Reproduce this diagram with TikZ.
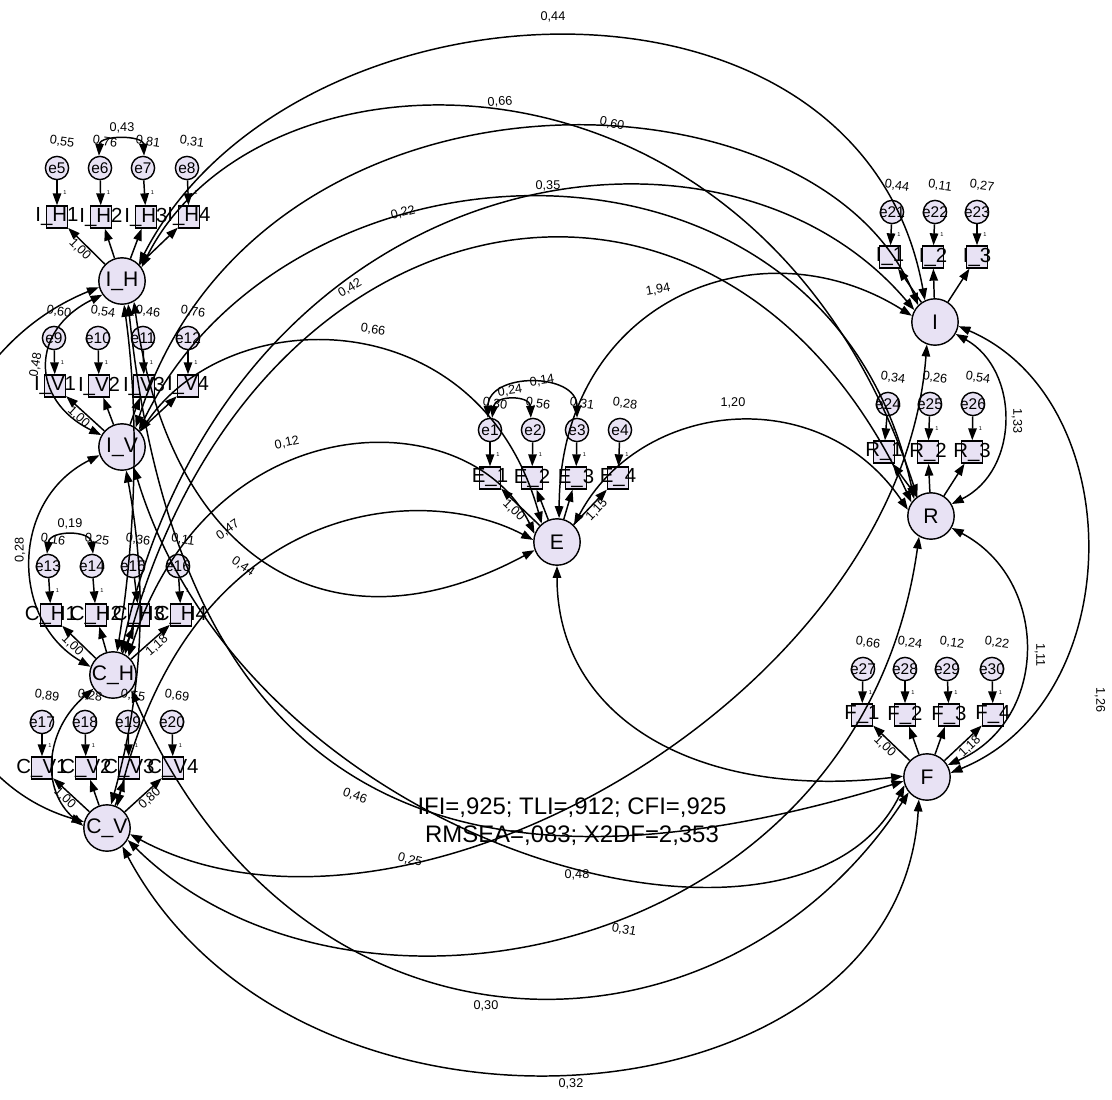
\documentclass[tikz,border=0pt]{standalone}
\usepackage{fontspec}
\setmainfont{Liberation Sans}
\usetikzlibrary{arrows.meta}
\definecolor{lav}{RGB}{232,226,244}
% one indicator: box, its error term, the error variance and the error path
\newcommand\mkind[9]{%
  \node[obsbox] (#1) at (#2,#3) {\makebox[0pt]{#4}};
  \node[errnode] (#5) at (#6,#7) {\makebox[0pt]{#8}};
  \node[num,rotate=-8,anchor=south] (#5v) at ([xshift=3pt,yshift=6pt]#5.north) {#9};
  \draw[->,conn] (#5) -- (#1) node[one,pos=.5,right=4pt] (#5one) {1};
}
\begin{document}
\begin{tikzpicture}[x=0.025cm,y=-0.025cm,
  >={Triangle[length=8.5pt,width=6pt]},
  every node/.style={inner sep=0pt},
  latent/.style={circle,draw,line width=1pt,fill=lav,minimum size=1.16cm,font=\fontsize{15}{15}\selectfont},
  obsbox/.style={rectangle,draw,line width=1pt,fill=lav,minimum width=0.52cm,minimum height=0.55cm,font=\fontsize{14.5}{14.5}\selectfont},
  errnode/.style={circle,draw,line width=1pt,fill=lav,minimum size=0.58cm,font=\fontsize{11}{11}\selectfont},
  num/.style={font=\fontsize{9}{9}\selectfont},
  one/.style={font=\fontsize{4}{4}\selectfont},
  conn/.style={line width=1.05pt},
  covline/.style={<->,line width=1.05pt}]
\useasboundingbox (0,0) rectangle (1112,1099);
\fill[white] (0,0) rectangle (1112,1099);
\clip (0,0) rectangle (1112,1099);

% latent variables
\node[latent] (IH) at (122,281) {I\_H};
\node[latent] (IV) at (122,447) {I\_V};
\node[latent] (CH) at (113,675) {C\_H};
\node[latent] (CV) at (107,828) {C\_V};
\node[latent] (E)  at (557,542) {E};
\node[latent] (I)  at (935,322) {I};
\node[latent] (R)  at (931,516) {R};
\node[latent] (F)  at (927,777) {F};

% indicators with error terms
\mkind{ih1}{57}{217}{I\_H1}{e5}{57}{168}{e5}{0,55}
\mkind{ih2}{101}{217}{I\_H2}{e6}{100}{168}{e6}{0,76}
\mkind{ih3}{146}{217}{I\_H3}{e7}{143}{168}{e7}{0,81}
\mkind{ih4}{189}{217}{I\_H4}{e8}{187}{168}{e8}{0,31}
\mkind{iv1}{55}{386}{I\_V1}{e9}{54}{338}{e9}{0,60}
\mkind{iv2}{99}{386}{I\_V2}{e10}{98}{338}{e10}{0,54}
\mkind{iv3}{144}{386}{I\_V3}{e11}{143}{338}{e11}{0,46}
\mkind{iv4}{188}{386}{I\_V4}{e12}{188}{338}{e12}{0,76}
\mkind{ch1}{51}{615}{C\_H1}{e13}{48}{566}{e13}{0,16}
\mkind{ch2}{96}{615}{C\_H2}{e14}{92}{566}{e14}{0,25}
\mkind{ch3}{139}{615}{C\_H3}{e15}{133}{566}{e15}{0,36}
\mkind{ch4}{181}{615}{C\_H4}{e16}{178}{566}{e16}{0,11}
\mkind{cv1}{42}{768}{C\_V1}{e17}{42}{722}{e17}{0,89}
\mkind{cv2}{86}{768}{C\_V2}{e18}{85}{722}{e18}{0,28}
\mkind{cv3}{129}{768}{C\_V3}{e19}{128}{722}{e19}{0,55}
\mkind{cv4}{173}{768}{C\_V4}{e20}{172}{722}{e20}{0,69}
\mkind{ee1}{490}{478}{E\_1}{e1}{490}{430}{e1}{0,30}
\mkind{ee2}{532}{478}{E\_2}{e2}{533}{430}{e2}{0,56}
\mkind{ee3}{576}{478}{E\_3}{e3}{577}{430}{e3}{0,31}
\mkind{ee4}{618}{478}{E\_4}{e4}{620}{430}{e4}{0,28}
\mkind{ii1}{890}{257}{I\_1}{e21}{892}{212}{e21}{0,44}
\mkind{ii2}{933}{257}{I\_2}{e22}{935}{212}{e22}{0,11}
\mkind{ii3}{977}{257}{I\_3}{e23}{977}{212}{e23}{0,27}
\mkind{rr1}{884}{452}{R\_1}{e24}{888}{404}{e24}{0,34}
\mkind{rr2}{928}{452}{R\_2}{e25}{930}{404}{e25}{0,26}
\mkind{rr3}{972}{452}{R\_3}{e26}{973}{404}{e26}{0,54}
\mkind{ff1}{862}{715}{F\_1}{e27}{863}{669}{e27}{0,66}
\mkind{ff2}{905}{715}{F\_2}{e28}{905}{669}{e28}{0,24}
\mkind{ff3}{949}{715}{F\_3}{e29}{947}{669}{e29}{0,12}
\mkind{ff4}{993}{715}{F\_4}{e30}{992}{669}{e30}{0,22}

% factor loadings
\foreach \b in {ih1,ih2,ih3,ih4} \draw[->,conn] (IH) -- (\b);
\foreach \b in {iv1,iv2,iv3,iv4} \draw[->,conn] (IV) -- (\b);
\foreach \b in {ch1,ch2,ch3,ch4} \draw[->,conn] (CH) -- (\b);
\foreach \b in {cv1,cv2,cv3,cv4} \draw[->,conn] (CV) -- (\b);
\foreach \b in {ee1,ee2,ee3,ee4} \draw[->,conn] (E) -- (\b);
\foreach \b in {ii1,ii2,ii3} \draw[->,conn] (I) -- (\b);
\foreach \b in {rr1,rr2,rr3} \draw[->,conn] (R) -- (\b);
\foreach \b in {ff1,ff2,ff3,ff4} \draw[->,conn] (F) -- (\b);
\path (IH) -- (ih1) node[num,sloped,pos=.55,below=1pt] (ldih) {1,00};
\path (IV) -- (iv1) node[num,sloped,pos=.55,below=1pt] (ldiv) {1,00};
\path (CH) -- (ch1) node[num,sloped,pos=.55,below=1pt] (ldch) {1,00};
\path (CH) -- (ch4) node[num,sloped,pos=.55,below=1pt] (ldch4) {1,18};
\path (CV) -- (cv1) node[num,sloped,pos=.55,below=1pt] (ldcv) {1,00};
\path (CV) -- (cv4) node[num,sloped,pos=.55,below=1pt] (ldcv4) {0,80};
\path (E) -- (ee1) node[num,sloped,pos=.55,below=1pt] (lde) {1,00};
\path (E) -- (ee4) node[num,sloped,pos=.55,below=1pt] (lde4) {1,15};
\path (F) -- (ff1) node[num,sloped,pos=.55,below=1pt] (ldf) {1,00};
\path (F) -- (ff4) node[num,sloped,pos=.55,below=1pt] (ldf4) {1,18};

% correlated errors
\draw[covline] (e6.95) .. controls (100,135) and (143,135) .. (e7.85);
\node[num] (c67) at (122,128) {0,43};
\draw[covline] (e13.95) .. controls (50,530) and (90,530) .. (e14.85);
\node[num] (c1314) at (70,524) {0,19};
\draw[covline] (e1.80) .. controls (495,395) and (530,395) .. (e2.100);
\node[num,rotate=8] (c12) at (510,391) {0,24};
\draw[covline] (e1.100) .. controls (488,372) and (577,372) .. (e3.90);
\node[num,rotate=8] (c13) at (542,381) {0,14};

% covariances among the left-hand factors
\draw[covline] (IH.215) .. controls (30,330) and (30,400) .. (IV.150);
\node[num,rotate=80] (cihiv) at (36,365) {0,48};
\draw[covline] (IH.-85) .. controls (140,420) and (135,540) .. (CH.80);
\draw[covline] (IH.195) .. controls (-130,380) and (-130,760) .. (CV.165);
\draw[covline] (IV.200) .. controls (10,500) and (10,620) .. (CH.160);
\node[num,rotate=90] (civch) at (20,550) {0,28};
\draw[covline] (IV.-80) .. controls (150,600) and (140,700) .. (CV.80);
\draw[covline] (CH.215) .. controls (45,730) and (40,790) .. (CV.175);

% covariances with I and R across the top
\draw[covline] (IH.45) .. controls (290,-30) and (860,-60) .. (I.115);
\node[num] (cihi) at (553,17) {0,44};
\draw[covline] (IH.35) .. controls (260,30) and (760,20) .. (R.125);
\node[num,rotate=4] (cihr) at (500,102) {0,66};
\draw[covline] (IV.55) .. controls (260,40) and (820,60) .. (I.135);
\node[num,rotate=-12] (civi) at (612,124) {0,60};
\draw[covline] (IV.45) .. controls (290,120) and (830,100) .. (R.135);
\node[num] (civr) at (548,186) {0,35};
\draw[covline] (CH.70) .. controls (230,160) and (720,80) .. (I.150);
\node[num,rotate=15] (cchi) at (403,213) {0,22};
\draw[covline] (CH.60) .. controls (250,180) and (720,90) .. (R.145);
\node[num,rotate=30] (cchr) at (350,288) {0,42};

% covariances with E
\draw[covline] (IV.40) .. controls (230,300) and (480,300) .. (E.130);
\node[num,rotate=-8] (cive) at (373,330) {0,66};
\draw[covline] (CH.50) .. controls (210,400) and (470,400) .. (E.160);
\node[num,rotate=12] (cche) at (287,443) {0,12};
\draw[covline] (CV.65) .. controls (190,500) and (420,480) .. (E.175);
\node[num,rotate=35] (ccve) at (228,530) {0,47};
\draw[covline] (IH.-60) .. controls (170,560) and (330,660) .. (E.200);
\node[num,rotate=-35] (cihe) at (243,567) {0,44};

% covariances with F and the long lower arcs
\draw[covline] (IH.-75) .. controls (180,800) and (450,920) .. (F.190);
\node[num,rotate=-20] (cihf) at (355,796) {0,46};
\draw[covline] (IV.-60) .. controls (250,850) and (800,1000) .. (F.200);
\node[num] (civf) at (577,875) {0,48};
\draw[covline] (CV.-15) .. controls (400,980) and (900,700) .. (I.250);
\node[num,rotate=-15] (ccvi) at (410,860) {0,25};
\draw[covline] (CV.-30) .. controls (350,1060) and (860,960) .. (R.240);
\node[num,rotate=-10] (ccvr) at (624,930) {0,31};
\draw[covline] (CH.-40) .. controls (300,1080) and (720,1080) .. (F.220);
\node[num] (cchf) at (486,1006) {0,30};
\draw[covline] (CV.-50) .. controls (300,1180) and (900,1130) .. (F.250);
\node[num] (ccvf) at (571,1084) {0,32};

% covariances among the right-hand factors
\draw[covline] (E.85) .. controls (560,300) and (760,220) .. (I.165);
\node[num,rotate=10] (cei) at (658,290) {1,94};
\draw[covline] (E.45) .. controls (640,400) and (820,380) .. (R.165);
\node[num] (cer) at (733,403) {1,20};
\draw[covline] (E.-90) .. controls (557,720) and (700,800) .. (F.178);
\draw[covline] (I.-30) .. controls (1020,370) and (1020,470) .. (R.30);
\node[num,rotate=-90] (cir) at (1017,421) {1,33};
\draw[covline] (R.-30) .. controls (1050,580) and (1050,720) .. (F.30);
\node[num,rotate=-90] (crf) at (1040,655) {1,11};
\draw[covline] (I.-10) .. controls (1130,400) and (1130,700) .. (F.10);
\node[num,rotate=-90] (cif) at (1100,700) {1,26};

% fit indices
\node[font=\fontsize{17}{20}\selectfont,align=center] (fit) at (572,822)
  {IFI=,925; TLI=,912; CFI=,925\\RMSEA=,083; X2DF=2,353};
\end{tikzpicture}
\end{document}
